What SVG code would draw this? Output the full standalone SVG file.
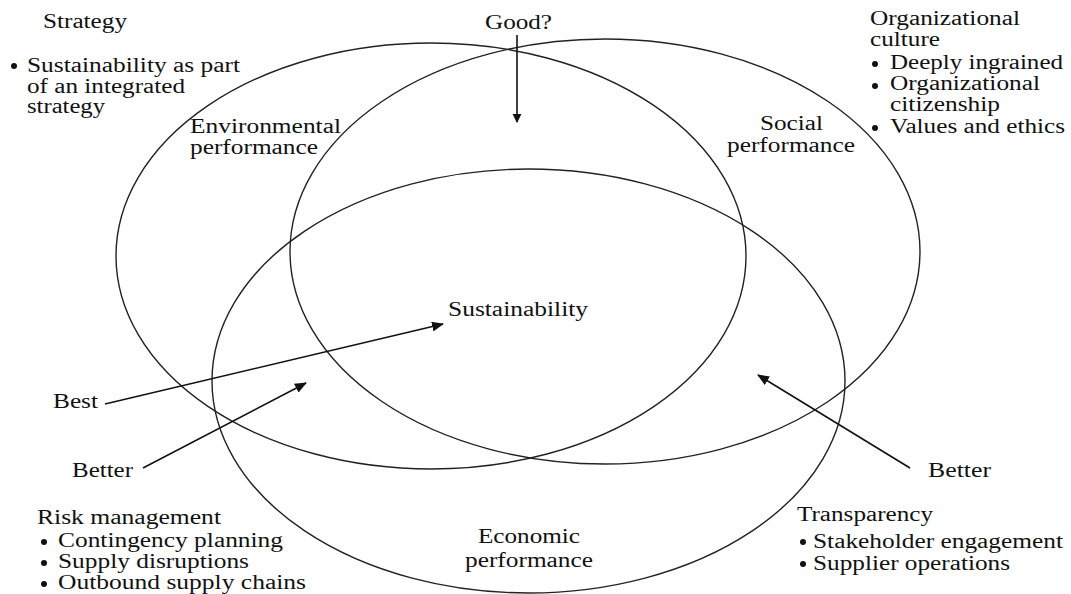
<svg xmlns="http://www.w3.org/2000/svg" width="1071" height="594" viewBox="0 0 1071 594">
<defs>
<style>
.c{fill:none;stroke:#222;stroke-width:1.4}
.a{fill:none;stroke:#111;stroke-width:1.6}
text{font-family:"Liberation Serif","Times New Roman",serif;font-size:20px;fill:#111}
.b{fill:#111}
</style>
<marker id="ah" viewBox="0 0 10 10" refX="9" refY="5" markerWidth="9" markerHeight="10" markerUnits="userSpaceOnUse" orient="auto">
<path d="M0,0 L10,5 L0,10 z" fill="#111"/>
</marker>
<marker id="ah2" viewBox="0 0 12 10" refX="11" refY="5" markerWidth="12" markerHeight="10" markerUnits="userSpaceOnUse" orient="auto">
<path d="M0,0 L12,5 L0,10 z" fill="#111"/>
</marker>
</defs>
<rect width="1071" height="594" fill="#fff"/>
<g id="environmental">
<ellipse class="c" cx="431" cy="256" rx="315" ry="213"/>
<text x="190" y="133" textLength="151" lengthAdjust="spacingAndGlyphs">Environmental</text>
<text x="190" y="154" textLength="128" lengthAdjust="spacingAndGlyphs">performance</text>
</g>
<g id="social">
<ellipse class="c" cx="605" cy="251.5" rx="315" ry="212.5"/>
<text x="760" y="130" textLength="63" lengthAdjust="spacingAndGlyphs">Social</text>
<text x="727" y="152" textLength="128" lengthAdjust="spacingAndGlyphs">performance</text>
</g>
<g id="economic">
<ellipse class="c" cx="528.5" cy="381" rx="316.5" ry="212"/>
<text x="478" y="543" textLength="102" lengthAdjust="spacingAndGlyphs">Economic</text>
<text x="465" y="567" textLength="128" lengthAdjust="spacingAndGlyphs">performance</text>
</g>
<g id="sustainability">
<text x="448" y="316" textLength="140" lengthAdjust="spacingAndGlyphs">Sustainability</text>
</g>
<g id="strategy">
<text x="43" y="28" textLength="84" lengthAdjust="spacingAndGlyphs">Strategy</text>
<circle class="b" cx="14" cy="66" r="3"/>
<text x="27" y="72" textLength="213" lengthAdjust="spacingAndGlyphs">Sustainability as part</text>
<text x="27" y="93" textLength="158" lengthAdjust="spacingAndGlyphs">of an integrated</text>
<text x="27" y="113" textLength="78" lengthAdjust="spacingAndGlyphs">strategy</text>
</g>
<g id="culture">
<text x="870" y="25" textLength="150" lengthAdjust="spacingAndGlyphs">Organizational</text>
<text x="870" y="46" textLength="70" lengthAdjust="spacingAndGlyphs">culture</text>
<circle class="b" cx="875" cy="64" r="3"/>
<text x="890" y="69" textLength="173" lengthAdjust="spacingAndGlyphs">Deeply ingrained</text>
<circle class="b" cx="875" cy="86" r="3"/>
<text x="890" y="90" textLength="150" lengthAdjust="spacingAndGlyphs">Organizational</text>
<text x="890" y="111" textLength="110" lengthAdjust="spacingAndGlyphs">citizenship</text>
<circle class="b" cx="875" cy="128" r="3"/>
<text x="890" y="133" textLength="175" lengthAdjust="spacingAndGlyphs">Values and ethics</text>
</g>
<g id="good">
<text x="485" y="29" textLength="67" lengthAdjust="spacingAndGlyphs">Good?</text>
</g>
<g id="best">
<text x="53" y="408" textLength="45" lengthAdjust="spacingAndGlyphs">Best</text>
</g>
<g id="better-left">
<text x="72" y="477" textLength="61" lengthAdjust="spacingAndGlyphs">Better</text>
</g>
<g id="better-right">
<text x="928" y="477" textLength="63" lengthAdjust="spacingAndGlyphs">Better</text>
</g>
<g id="risk">
<text x="37" y="524" textLength="184" lengthAdjust="spacingAndGlyphs">Risk management</text>
<circle class="b" cx="44" cy="542" r="3"/>
<text x="58" y="547" textLength="225" lengthAdjust="spacingAndGlyphs">Contingency planning</text>
<circle class="b" cx="44" cy="563" r="3"/>
<text x="58" y="568" textLength="191" lengthAdjust="spacingAndGlyphs">Supply disruptions</text>
<circle class="b" cx="44" cy="584" r="3"/>
<text x="58" y="589" textLength="248" lengthAdjust="spacingAndGlyphs">Outbound supply chains</text>
</g>
<g id="transparency">
<text x="797" y="521" textLength="136" lengthAdjust="spacingAndGlyphs">Transparency</text>
<circle class="b" cx="803" cy="542" r="3"/>
<text x="813" y="548" textLength="250" lengthAdjust="spacingAndGlyphs">Stakeholder engagement</text>
<circle class="b" cx="803" cy="564" r="3"/>
<text x="813" y="570" textLength="197" lengthAdjust="spacingAndGlyphs">Supplier operations</text>
</g>
<g id="connectors">
<line class="a" x1="517" y1="35" x2="517" y2="122" marker-end="url(#ah)"/>
<line class="a" x1="105" y1="404" x2="443" y2="324" marker-end="url(#ah2)"/>
<line class="a" x1="143" y1="468" x2="306" y2="383" marker-end="url(#ah2)"/>
<line class="a" x1="910" y1="468" x2="758" y2="375" marker-end="url(#ah2)"/>
</g>
</svg>
